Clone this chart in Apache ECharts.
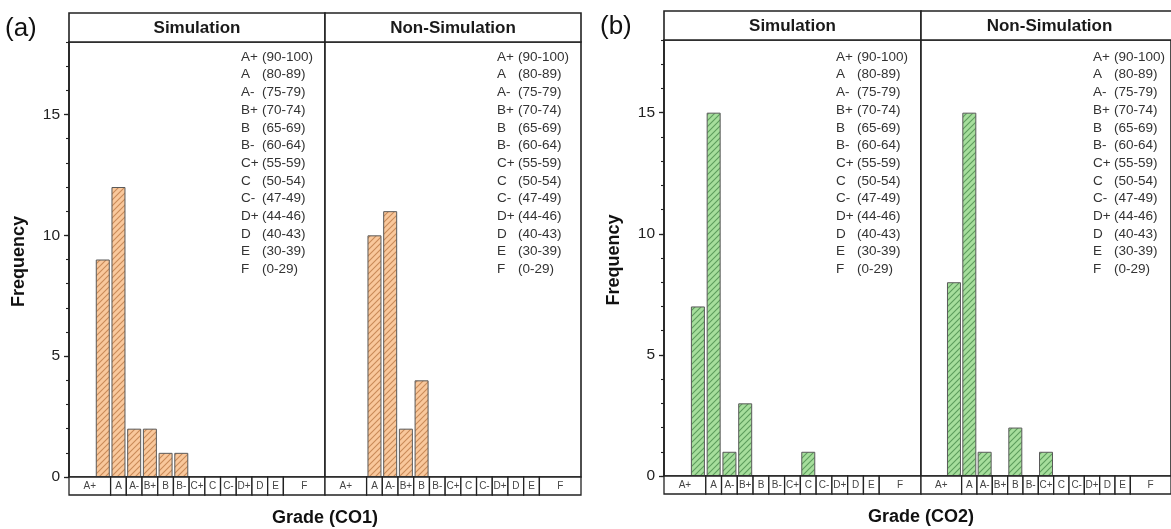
<!DOCTYPE html>
<html>
<head>
<meta charset="utf-8">
<script src="https://cdn.jsdelivr.net/npm/echarts@6/dist/echarts.min.js"></script>
<style>
html,body{margin:0;padding:0;background:#fff;}
#main{width:1171px;height:529px;}
</style>
</head>
<body>
<div id="main"></div>
<script>
// ---- data ----
const grades = ['A+','A','A-','B+','B','B-','C+','C','C-','D+','D','E','F'];
const ranges = ['(90-100)','(80-89)','(75-79)','(70-74)','(65-69)','(60-64)','(55-59)','(50-54)','(47-49)','(44-46)','(40-43)','(30-39)','(0-29)'];
const panelNames = ['Simulation','Non-Simulation'];
const figLabels = ['(a)','(b)'];
const xTitles = ['Grade (CO1)','Grade (CO2)'];
const yTitle = 'Frequency';
const yTicks = [0,5,10,15];
const co1Sim = [9,12,2,2,1,1,0,0,0,0,0,0,0];
const co1Non = [0,10,11,2,4,0,0,0,0,0,0,0,0];
const co2Sim = [7,15,1,3,0,0,0,1,0,0,0,0,0];
const co2Non = [8,15,1,0,2,0,1,0,0,0,0,0,0];

// ---- layout ----
const xMin = -2.15, xMax = 14.15, yMax = 18;
const panels = [
  {left:69,  top:42, w:256, h:435, head:13, data:co1Sim, fig:0, sim:true},
  {left:325, top:42, w:256, h:435, head:13, data:co1Non, fig:0, sim:false},
  {left:664, top:40, w:257, h:436, head:11, data:co2Sim, fig:1, sim:true},
  {left:921, top:40, w:257, h:436, head:11, data:co2Non, fig:1, sim:false}
];
const palettes = [
  {fill:'#f9c89c', line:'#c98a58'},
  {fill:'#a6de9c', line:'#5c9c5c'}
];
function hatch(fill, line){
  const c = document.createElement('canvas');
  c.width = 6; c.height = 6;
  const g = c.getContext('2d');
  g.fillStyle = fill; g.fillRect(0,0,6,6);
  g.strokeStyle = line; g.lineWidth = 1.1;
  g.beginPath();
  g.moveTo(-1,7); g.lineTo(7,-1);
  g.moveTo(-4,4); g.lineTo(4,-4);
  g.moveTo(2,10); g.lineTo(10,2);
  g.stroke();
  return c;
}
const patterns = palettes.map(p => hatch(p.fill, p.line));
const FONT = 'Liberation Sans, Arial, sans-serif';
const LINE = '#222';

const chart = echarts.init(document.getElementById('main'), null, {renderer:'canvas'});

const grid = [], xAxis = [], yAxis = [], series = [], graphic = [];
panels.forEach((p, k) => {
  grid.push({left:p.left, top:p.top, width:p.w, height:p.h, show:true,
    borderColor:LINE, borderWidth:1.6, backgroundColor:'#fff'});
  xAxis.push({type:'value', gridIndex:k, min:xMin, max:xMax, show:false});
  yAxis.push({type:'value', gridIndex:k, min:0, max:yMax, show:p.sim, position:'left',
    splitLine:{show:false},
    axisLine:{show:true, onZero:false, lineStyle:{color:LINE, width:1.6}},
    axisTick:{show:true, length:5, customValues:yTicks, lineStyle:{color:LINE, width:1.3}},
    axisLabel:{show:true, customValues:yTicks, margin:9, fontSize:15.5, color:'#222', fontFamily:FONT}
  });
});
// minor tick axes
panels.forEach((p, k) => {
  if (!p.sim) return;
  yAxis.push({type:'value', gridIndex:k, min:0, max:yMax, interval:1, position:'left', offset:0,
    splitLine:{show:false}, axisLine:{show:false, onZero:false},
    axisTick:{show:true, length:3, lineStyle:{color:LINE, width:1.1}},
    axisLabel:{show:false}});
});

panels.forEach((p, k) => {
  series.push({
    type:'bar', xAxisIndex:k, yAxisIndex:k, barWidth:14,
    data: p.data.map((v,i)=>[i,v]).filter(d=>d[1]>0),
    itemStyle:{color:{image:patterns[p.fig], repeat:'repeat'}, borderColor:'#5a5a5a', borderWidth:1},
    emphasis:{disabled:true}, z:3, animation:false
  });
  series.push({
    type:'custom', xAxisIndex:k, yAxisIndex:k, clip:false, z:4, silent:true, animation:false,
    data: grades.map((g,i)=>[i,0]),
    renderItem:(params, api) => {
      const i = api.value(0);
      const l = i === 0 ? xMin : i - 0.5;
      const r = i === grades.length - 1 ? xMax : i + 0.5;
      const p1 = api.coord([l,0]), p2 = api.coord([r,0]);
      return {type:'group', children:[
        {type:'rect', shape:{x:p1[0], y:p1[1], width:p2[0]-p1[0], height:18},
         style:{fill:'#fff', stroke:LINE, lineWidth:1.3}},
        {type:'text', style:{text:grades[i], x:(p1[0]+p2[0])/2, y:p1[1]+9.5,
         align:'center', verticalAlign:'middle', fontSize:10, fill:'#444', fontFamily:FONT}}
      ]};
    }
  });
  // header strip
  graphic.push({type:'rect', shape:{x:p.left, y:p.head, width:p.w, height:p.top-p.head},
    style:{fill:'#fff', stroke:LINE, lineWidth:1.6}, z:10});
  graphic.push({type:'text', x:p.left+p.w/2, y:(p.head+p.top)/2+1, z:11,
    style:{text:panelNames[p.sim?0:1], align:'center', verticalAlign:'middle',
      font:'bold 17px '+FONT, fill:'#1a1a1a'}});
  // grade legend
  grades.forEach((g,j) => {
    graphic.push({type:'text', x:p.left+172, y:57+j*17.7, z:11,
      style:{text:g, align:'left', verticalAlign:'middle', font:'13.5px '+FONT, fill:'#333'}});
    graphic.push({type:'text', x:p.left+193, y:57+j*17.7, z:11,
      style:{text:ranges[j], align:'left', verticalAlign:'middle', font:'13.5px '+FONT, fill:'#333'}});
  });
});

// figure labels and axis titles
[[0,1],[2,3]].forEach((pair, f) => {
  const a = panels[pair[0]], b = panels[pair[1]];
  graphic.push({type:'text', x:a.left-64, y:a.head+16, z:11,
    style:{text:figLabels[f], align:'left', verticalAlign:'middle', font:'26px '+FONT, fill:'#111'}});
  graphic.push({type:'text', x:b.left, y:a.top+a.h+41, z:11,
    style:{text:xTitles[f], align:'center', verticalAlign:'middle', font:'bold 18px '+FONT, fill:'#111'}});
  graphic.push({type:'text', x:a.left-50, y:a.top+a.h/2+2, rotation:Math.PI/2, z:11,
    style:{text:yTitle, align:'center', verticalAlign:'middle', font:'bold 18px '+FONT, fill:'#111'}});
});

chart.setOption({
  animation:false,
  backgroundColor:'#fff',
  grid, xAxis, yAxis, series, graphic
});
</script>
</body>
</html>
